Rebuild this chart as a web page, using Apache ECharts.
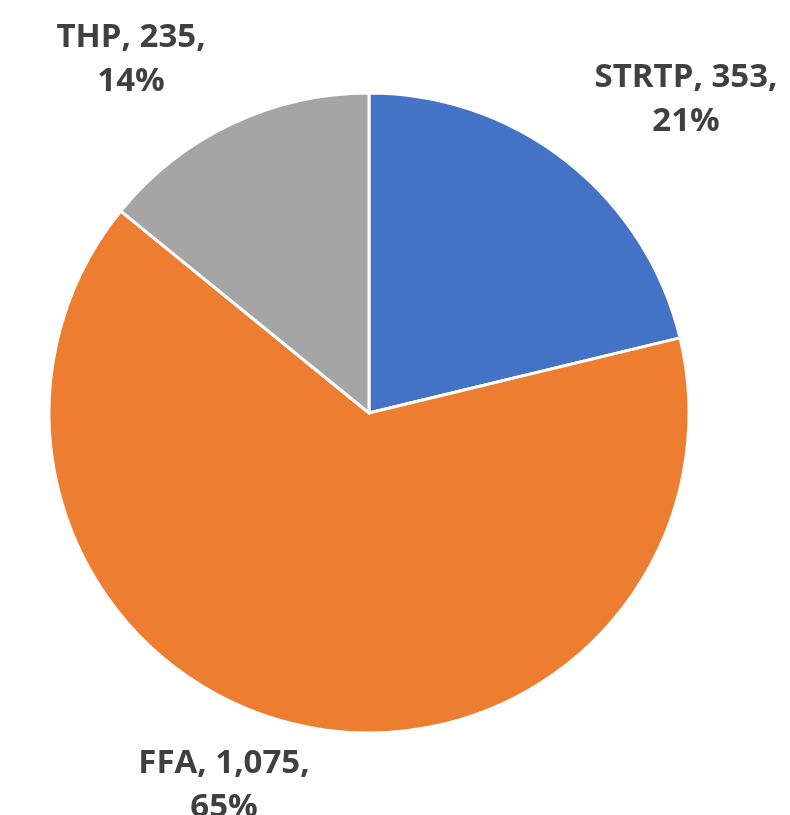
<!doctype html>
<html>
    <head>
        <meta charset="utf-8">
        <title>Pie</title>
        <style>
            html, body { margin: 0; padding: 0; background: #fff; }
            #main { width: 790px; height: 815px; }
        </style>
    </head>
    <body>
        <div id="main"></div>
        <script src="https://cdn.jsdelivr.net/npm/echarts@6/dist/echarts.min.js"></script>
        <script>
            var names = ['STRTP', 'FFA', 'THP'];
            var values = [353, 1075, 235];
            var colors = ['#4472C4', '#ED7D31', '#A5A5A5'];

            // label block centres, px
            var labelPos = [[686, 100], [224, 786], [131, 60]];

            var chart = echarts.init(document.getElementById('main'));

            var total = values.reduce(function (a, b) { return a + b; }, 0);

            chart.setOption({
                animation: false,
                series: [{
                    type: 'pie',
                    center: [369, 413],
                    radius: [0, 320],
                    startAngle: 90,
                    clockwise: true,
                    itemStyle: {
                        borderColor: '#fff',
                        borderWidth: 3
                    },
                    label: {
                        show: true,
                        position: 'outside',
                        overflow: 'none',
                        formatter: function (p) {
                            return p.name + ', ' + p.value.toLocaleString('en-US') + ',\n' +
                                Math.round(p.value / total * 100) + '%';
                        },
                        fontFamily: 'Open Sans',
                        fontWeight: 'bold',
                        fontSize: 33,
                        lineHeight: 44,
                        color: '#404040',
                        align: 'center',
                        verticalAlign: 'middle'
                    },
                    labelLine: { show: false },
                    labelLayout: function (params) {
                        var p = labelPos[params.dataIndex];
                        return { x: p[0], y: p[1], align: 'center', verticalAlign: 'middle' };
                    },
                    data: names.map(function (n, i) {
                        return { name: n, value: values[i], itemStyle: { color: colors[i] } };
                    })
                }]
            });
        </script>
    </body>
</html>
